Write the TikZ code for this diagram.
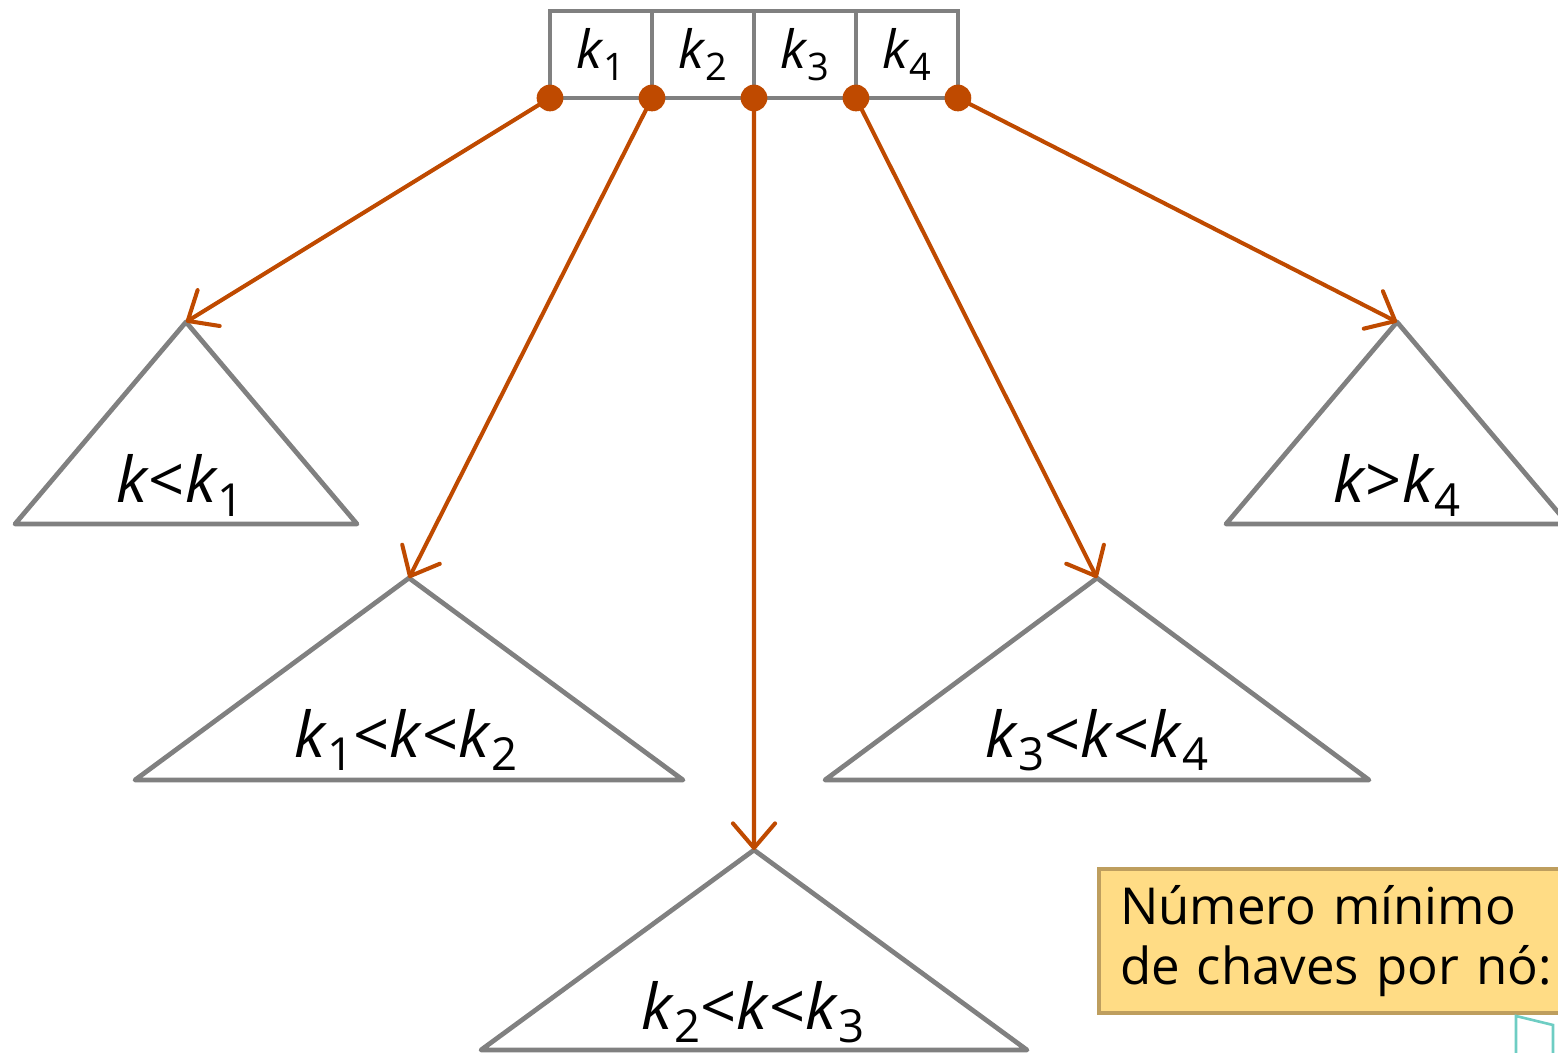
\documentclass[tikz,border=0pt]{standalone}
\usepackage{fontspec}
\setmainfont{Open Sans}
\usepackage{graphicx}
\usetikzlibrary{arrows.meta,positioning}

\definecolor{keygray}{RGB}{128,128,128}
\definecolor{ptrorange}{RGB}{191,74,0}
\definecolor{notefill}{RGB}{255,220,133}
\definecolor{noteedge}{RGB}{190,158,94}
\definecolor{tealmark}{RGB}{110,205,195}

\newcommand\kk[1]{\textit{k}\raisebox{-0.22em}{\scalebox{0.72}{#1}}}

\tikzset{
 cell/.style={draw=keygray,line width=2.7pt,minimum width=2.04cm,minimum height=1.74cm,
   inner sep=0pt,outer sep=0pt,font=\fontsize{30}{36}\selectfont},
 subtree/.style={draw=keygray,line width=2.7pt,line join=round,line cap=round},
 ptr/.style={draw=ptrorange,line width=2.3pt,-{Straight Barb[length=14pt,width=24pt,round]}},
 lab/.style={anchor=base,font=\fontsize{36}{42}\selectfont},
 note/.style={draw=noteedge,fill=notefill,line width=2.5pt,align=left,text width=9.1cm,
   inner xsep=0.42cm,minimum height=2.88cm,font=\fontsize{29}{34}\selectfont}
}

\begin{document}
\begin{tikzpicture}[x=0.02cm,y=-0.02cm]
 \clip (0,0) rectangle (1558,1053);

 % the node with four keys
 \node[cell] (c1) at (601,54.5) {\kk1};
 \node[cell,right=0pt of c1] (c2) {\kk2};
 \node[cell,right=0pt of c2] (c3) {\kk3};
 \node[cell,right=0pt of c3] (c4) {\kk4};

 % subtrees
 \coordinate (t1) at (186,322);
 \coordinate (t2) at (409,578);
 \coordinate (t3) at (754,850);
 \coordinate (t4) at (1097,578);
 \coordinate (t5) at (1397,322);
 \foreach \t/\w/\h in {t1/171/202,t2/274/202,t3/273/200,t4/272/202,t5/171/202}{%
   \draw[subtree] (\t) -- ++(-\w,\h) -- ++(2*\w,0) -- cycle;
 }
 \node[lab] (l1) at (180,503) {\textit{k}<\kk1};
 \node[lab] (l2) at (406,757) {\kk1<\textit{k}<\kk2};
 \node[lab] (l3) at (753,1029) {\kk2<\textit{k}<\kk3};
 \node[lab] (l4) at (1097,757) {\kk3<\textit{k}<\kk4};
 \node[lab] (l5) at (1397,503) {\textit{k}>\kk4};

 % pointers
 \foreach \a/\t in {c1.south west/t1,c1.south east/t2,c2.south east/t3,c3.south east/t4,c4.south east/t5}{%
   \draw[ptr] (\a) -- (\t);
   \fill[ptrorange] (\a) circle[radius=7.6pt];
 }

 \node[note,anchor=north west] (nota) at (1097,867) {\raisebox{-4pt}{Número mínimo}\\\raisebox{-4pt}{de chaves por nó:}};
 \draw[tealmark,line width=1.5pt] (1516,1060) -- (1516,1016) -- (1553,1025) -- (1553,1060);
\end{tikzpicture}
\end{document}
